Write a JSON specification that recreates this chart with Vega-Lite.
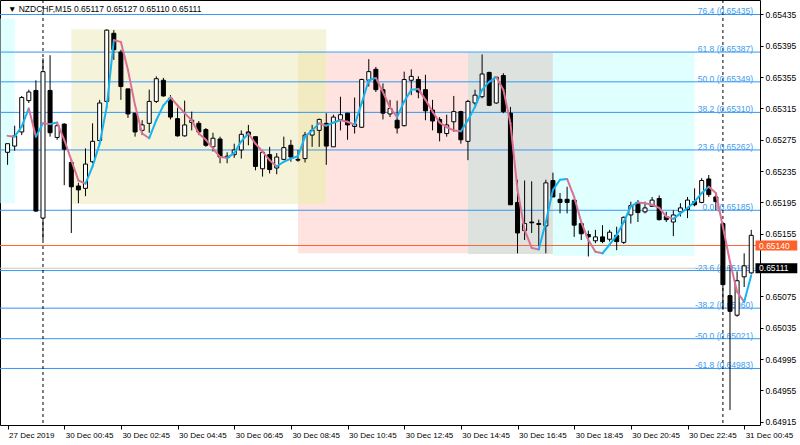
{
  "$schema": "https://vega.github.io/schema/vega-lite/v6.json",
  "width": 760,
  "height": 425,
  "autosize": {"type": "none"},
  "padding": {"left": 0, "top": 0, "right": 40, "bottom": 20},
  "background": "#ffffff",
  "config": {"view": {"stroke": "#000000", "strokeWidth": 1}, "axis": {"labelOverlap": false, "labelBound": false, "labelFlush": false, "labelSeparation": 0}},
  "resolve": {"scale": {"color": "independent"}},
  "datasets": {
    "candles": [
      {"i": -5, "o": 0.65259, "h": 0.65270, "l": 0.65243, "c": 0.65270, "ma": 0.65280},
      {"i": -4, "o": 0.65267, "h": 0.65293, "l": 0.65261, "c": 0.65280, "ma": 0.65279},
      {"i": -3, "o": 0.65285, "h": 0.65331, "l": 0.65281, "c": 0.65329, "ma": 0.65292},
      {"i": -2, "o": 0.65325, "h": 0.65339, "l": 0.65322, "c": 0.65336, "ma": 0.65315},
      {"i": -1, "o": 0.65338, "h": 0.65351, "l": 0.65183, "c": 0.65184, "ma": 0.65279},
      {"i": 0, "o": 0.65175, "h": 0.65379, "l": 0.65147, "c": 0.65362, "ma": 0.65296},
      {"i": 1, "o": 0.65338, "h": 0.65383, "l": 0.65279, "c": 0.65284, "ma": 0.65295},
      {"i": 2, "o": 0.65278, "h": 0.65296, "l": 0.65275, "c": 0.65293, "ma": 0.65297},
      {"i": 3, "o": 0.65295, "h": 0.65296, "l": 0.65217, "c": 0.65263, "ma": 0.65275},
      {"i": 4, "o": 0.65246, "h": 0.65249, "l": 0.65156, "c": 0.65215, "ma": 0.65249},
      {"i": 5, "o": 0.65216, "h": 0.65220, "l": 0.65194, "c": 0.65211, "ma": 0.65223},
      {"i": 6, "o": 0.65213, "h": 0.65264, "l": 0.65203, "c": 0.65244, "ma": 0.65219},
      {"i": 7, "o": 0.65247, "h": 0.65296, "l": 0.65245, "c": 0.65273, "ma": 0.65241},
      {"i": 8, "o": 0.65274, "h": 0.65326, "l": 0.65273, "c": 0.65322, "ma": 0.65270},
      {"i": 9, "o": 0.65324, "h": 0.65416, "l": 0.65322, "c": 0.65415, "ma": 0.65317},
      {"i": 10, "o": 0.65411, "h": 0.65415, "l": 0.65377, "c": 0.65390, "ma": 0.65402},
      {"i": 11, "o": 0.65387, "h": 0.65390, "l": 0.65326, "c": 0.65343, "ma": 0.65400},
      {"i": 12, "o": 0.65340, "h": 0.65340, "l": 0.65303, "c": 0.65308, "ma": 0.65364},
      {"i": 13, "o": 0.65309, "h": 0.65309, "l": 0.65279, "c": 0.65285, "ma": 0.65319},
      {"i": 14, "o": 0.65287, "h": 0.65300, "l": 0.65281, "c": 0.65294, "ma": 0.65283},
      {"i": 15, "o": 0.65296, "h": 0.65339, "l": 0.65284, "c": 0.65324, "ma": 0.65277},
      {"i": 16, "o": 0.65324, "h": 0.65356, "l": 0.65322, "c": 0.65353, "ma": 0.65300},
      {"i": 17, "o": 0.65351, "h": 0.65354, "l": 0.65330, "c": 0.65331, "ma": 0.65319},
      {"i": 18, "o": 0.65328, "h": 0.65332, "l": 0.65301, "c": 0.65304, "ma": 0.65329},
      {"i": 19, "o": 0.65302, "h": 0.65316, "l": 0.65279, "c": 0.65280, "ma": 0.65319},
      {"i": 20, "o": 0.65280, "h": 0.65325, "l": 0.65279, "c": 0.65294, "ma": 0.65309},
      {"i": 21, "o": 0.65297, "h": 0.65311, "l": 0.65287, "c": 0.65300, "ma": 0.65300},
      {"i": 22, "o": 0.65296, "h": 0.65299, "l": 0.65281, "c": 0.65285, "ma": 0.65283},
      {"i": 23, "o": 0.65288, "h": 0.65290, "l": 0.65266, "c": 0.65268, "ma": 0.65275},
      {"i": 24, "o": 0.65266, "h": 0.65284, "l": 0.65260, "c": 0.65277, "ma": 0.65264},
      {"i": 25, "o": 0.65276, "h": 0.65279, "l": 0.65245, "c": 0.65253, "ma": 0.65253},
      {"i": 26, "o": 0.65254, "h": 0.65259, "l": 0.65245, "c": 0.65252, "ma": 0.65252},
      {"i": 27, "o": 0.65256, "h": 0.65270, "l": 0.65252, "c": 0.65262, "ma": 0.65258},
      {"i": 28, "o": 0.65262, "h": 0.65287, "l": 0.65251, "c": 0.65282, "ma": 0.65273},
      {"i": 29, "o": 0.65285, "h": 0.65294, "l": 0.65268, "c": 0.65281, "ma": 0.65283},
      {"i": 30, "o": 0.65279, "h": 0.65279, "l": 0.65236, "c": 0.65241, "ma": 0.65270},
      {"i": 31, "o": 0.65238, "h": 0.65262, "l": 0.65228, "c": 0.65259, "ma": 0.65260},
      {"i": 32, "o": 0.65256, "h": 0.65266, "l": 0.65232, "c": 0.65237, "ma": 0.65249},
      {"i": 33, "o": 0.65239, "h": 0.65258, "l": 0.65231, "c": 0.65253, "ma": 0.65241},
      {"i": 34, "o": 0.65250, "h": 0.65279, "l": 0.65249, "c": 0.65265, "ma": 0.65247},
      {"i": 35, "o": 0.65268, "h": 0.65275, "l": 0.65247, "c": 0.65253, "ma": 0.65251},
      {"i": 36, "o": 0.65250, "h": 0.65262, "l": 0.65247, "c": 0.65249, "ma": 0.65254},
      {"i": 37, "o": 0.65251, "h": 0.65285, "l": 0.65246, "c": 0.65281, "ma": 0.65279},
      {"i": 38, "o": 0.65281, "h": 0.65294, "l": 0.65266, "c": 0.65287, "ma": 0.65287},
      {"i": 39, "o": 0.65287, "h": 0.65302, "l": 0.65266, "c": 0.65301, "ma": 0.65296},
      {"i": 40, "o": 0.65296, "h": 0.65309, "l": 0.65243, "c": 0.65267, "ma": 0.65293},
      {"i": 41, "o": 0.65266, "h": 0.65307, "l": 0.65266, "c": 0.65304, "ma": 0.65297},
      {"i": 42, "o": 0.65301, "h": 0.65330, "l": 0.65287, "c": 0.65307, "ma": 0.65300},
      {"i": 43, "o": 0.65309, "h": 0.65309, "l": 0.65275, "c": 0.65294, "ma": 0.65298},
      {"i": 44, "o": 0.65292, "h": 0.65329, "l": 0.65283, "c": 0.65295, "ma": 0.65294},
      {"i": 45, "o": 0.65291, "h": 0.65353, "l": 0.65290, "c": 0.65352, "ma": 0.65322},
      {"i": 46, "o": 0.65351, "h": 0.65378, "l": 0.65343, "c": 0.65362, "ma": 0.65351},
      {"i": 47, "o": 0.65365, "h": 0.65368, "l": 0.65336, "c": 0.65339, "ma": 0.65354},
      {"i": 48, "o": 0.65339, "h": 0.65347, "l": 0.65301, "c": 0.65309, "ma": 0.65336},
      {"i": 49, "o": 0.65308, "h": 0.65326, "l": 0.65304, "c": 0.65315, "ma": 0.65316},
      {"i": 50, "o": 0.65300, "h": 0.65325, "l": 0.65283, "c": 0.65290, "ma": 0.65304},
      {"i": 51, "o": 0.65293, "h": 0.65362, "l": 0.65292, "c": 0.65352, "ma": 0.65324},
      {"i": 52, "o": 0.65351, "h": 0.65365, "l": 0.65332, "c": 0.65356, "ma": 0.65339},
      {"i": 53, "o": 0.65352, "h": 0.65356, "l": 0.65328, "c": 0.65336, "ma": 0.65340},
      {"i": 54, "o": 0.65339, "h": 0.65358, "l": 0.65300, "c": 0.65312, "ma": 0.65326},
      {"i": 55, "o": 0.65313, "h": 0.65326, "l": 0.65287, "c": 0.65299, "ma": 0.65311},
      {"i": 56, "o": 0.65301, "h": 0.65304, "l": 0.65273, "c": 0.65284, "ma": 0.65297},
      {"i": 57, "o": 0.65283, "h": 0.65307, "l": 0.65279, "c": 0.65294, "ma": 0.65291},
      {"i": 58, "o": 0.65298, "h": 0.65331, "l": 0.65285, "c": 0.65311, "ma": 0.65287},
      {"i": 59, "o": 0.65311, "h": 0.65312, "l": 0.65270, "c": 0.65275, "ma": 0.65286},
      {"i": 60, "o": 0.65273, "h": 0.65326, "l": 0.65249, "c": 0.65324, "ma": 0.65300},
      {"i": 61, "o": 0.65322, "h": 0.65339, "l": 0.65319, "c": 0.65332, "ma": 0.65317},
      {"i": 62, "o": 0.65330, "h": 0.65384, "l": 0.65328, "c": 0.65359, "ma": 0.65339},
      {"i": 63, "o": 0.65361, "h": 0.65362, "l": 0.65318, "c": 0.65319, "ma": 0.65349},
      {"i": 64, "o": 0.65322, "h": 0.65356, "l": 0.65321, "c": 0.65355, "ma": 0.65355},
      {"i": 65, "o": 0.65357, "h": 0.65360, "l": 0.65309, "c": 0.65311, "ma": 0.65339},
      {"i": 66, "o": 0.65309, "h": 0.65317, "l": 0.65192, "c": 0.65192, "ma": 0.65296},
      {"i": 67, "o": 0.65195, "h": 0.65224, "l": 0.65130, "c": 0.65156, "ma": 0.65211},
      {"i": 68, "o": 0.65159, "h": 0.65223, "l": 0.65147, "c": 0.65168, "ma": 0.65160},
      {"i": 69, "o": 0.65170, "h": 0.65222, "l": 0.65156, "c": 0.65169, "ma": 0.65137},
      {"i": 70, "o": 0.65168, "h": 0.65173, "l": 0.65139, "c": 0.65167, "ma": 0.65135},
      {"i": 71, "o": 0.65165, "h": 0.65224, "l": 0.65130, "c": 0.65220, "ma": 0.65170},
      {"i": 72, "o": 0.65223, "h": 0.65233, "l": 0.65202, "c": 0.65202, "ma": 0.65211},
      {"i": 73, "o": 0.65199, "h": 0.65207, "l": 0.65181, "c": 0.65195, "ma": 0.65224},
      {"i": 74, "o": 0.65199, "h": 0.65215, "l": 0.65181, "c": 0.65195, "ma": 0.65225},
      {"i": 75, "o": 0.65198, "h": 0.65198, "l": 0.65151, "c": 0.65166, "ma": 0.65202},
      {"i": 76, "o": 0.65168, "h": 0.65168, "l": 0.65147, "c": 0.65155, "ma": 0.65170},
      {"i": 77, "o": 0.65154, "h": 0.65159, "l": 0.65126, "c": 0.65151, "ma": 0.65147},
      {"i": 78, "o": 0.65146, "h": 0.65160, "l": 0.65143, "c": 0.65151, "ma": 0.65132},
      {"i": 79, "o": 0.65151, "h": 0.65166, "l": 0.65143, "c": 0.65145, "ma": 0.65130},
      {"i": 80, "o": 0.65148, "h": 0.65160, "l": 0.65145, "c": 0.65157, "ma": 0.65141},
      {"i": 81, "o": 0.65153, "h": 0.65164, "l": 0.65134, "c": 0.65145, "ma": 0.65153},
      {"i": 82, "o": 0.65144, "h": 0.65177, "l": 0.65142, "c": 0.65176, "ma": 0.65170},
      {"i": 83, "o": 0.65179, "h": 0.65196, "l": 0.65168, "c": 0.65191, "ma": 0.65190},
      {"i": 84, "o": 0.65195, "h": 0.65198, "l": 0.65170, "c": 0.65182, "ma": 0.65195},
      {"i": 85, "o": 0.65183, "h": 0.65196, "l": 0.65181, "c": 0.65188, "ma": 0.65194},
      {"i": 86, "o": 0.65190, "h": 0.65202, "l": 0.65190, "c": 0.65198, "ma": 0.65192},
      {"i": 87, "o": 0.65200, "h": 0.65204, "l": 0.65172, "c": 0.65173, "ma": 0.65188},
      {"i": 88, "o": 0.65177, "h": 0.65183, "l": 0.65170, "c": 0.65173, "ma": 0.65177},
      {"i": 89, "o": 0.65170, "h": 0.65185, "l": 0.65152, "c": 0.65179, "ma": 0.65174},
      {"i": 90, "o": 0.65183, "h": 0.65194, "l": 0.65177, "c": 0.65188, "ma": 0.65181},
      {"i": 91, "o": 0.65186, "h": 0.65202, "l": 0.65175, "c": 0.65198, "ma": 0.65188},
      {"i": 92, "o": 0.65196, "h": 0.65213, "l": 0.65190, "c": 0.65192, "ma": 0.65196},
      {"i": 93, "o": 0.65195, "h": 0.65226, "l": 0.65194, "c": 0.65223, "ma": 0.65207},
      {"i": 94, "o": 0.65225, "h": 0.65230, "l": 0.65202, "c": 0.65205, "ma": 0.65215},
      {"i": 95, "o": 0.65202, "h": 0.65207, "l": 0.65185, "c": 0.65196, "ma": 0.65207},
      {"i": 96, "o": 0.65168, "h": 0.65169, "l": 0.65058, "c": 0.65090, "ma": 0.65164},
      {"i": 97, "o": 0.65076, "h": 0.65115, "l": 0.64930, "c": 0.65056, "ma": 0.65119},
      {"i": 98, "o": 0.65051, "h": 0.65107, "l": 0.65049, "c": 0.65095, "ma": 0.65081},
      {"i": 99, "o": 0.65100, "h": 0.65130, "l": 0.65087, "c": 0.65114, "ma": 0.65068},
      {"i": 100, "o": 0.65105, "h": 0.65160, "l": 0.65104, "c": 0.65153, "ma": 0.65102}
    ],
    "boxes": [
      {"box": "s0", "i": -6, "i2": -4, "p1": 0.65430, "p2": 0.65194},
      {"box": "s2", "i": 36, "i2": 60, "p1": 0.65386, "p2": 0.65130},
      {"box": "s1", "i": 4, "i2": 40, "p1": 0.65416, "p2": 0.65193},
      {"box": "overlap", "i": 36, "i2": 40, "p1": 0.65386, "p2": 0.65193},
      {"box": "s3", "i": 60, "i2": 72, "p1": 0.65386, "p2": 0.65129},
      {"box": "s4", "i": 72, "i2": 92, "p1": 0.65386, "p2": 0.65127}
    ],
    "fib": [
      {"level": "76.4", "price": 0.65435, "label": "76.4 (0.65435)"},
      {"level": "61.8", "price": 0.65387, "label": "61.8 (0.65387)"},
      {"level": "50.0", "price": 0.65349, "label": "50.0 (0.65349)"},
      {"level": "38.2", "price": 0.65310, "label": "38.2 (0.65310)"},
      {"level": "23.6", "price": 0.65262, "label": "23.6 (0.65262)"},
      {"level": "0.0", "price": 0.65185, "label": "0.0 (0.65185)"},
      {"level": "-23.6", "price": 0.65108, "label": "-23.6 (0.65108)"},
      {"level": "-38.2", "price": 0.65060, "label": "-38.2 (0.65060)"},
      {"level": "-50.0", "price": 0.65021, "label": "-50.0 (0.65021)"},
      {"level": "-61.8", "price": 0.64983, "label": "-61.8 (0.64983)"}
    ],
    "hlines": [
      {"name": "level", "price": 0.65140, "label": "0.65140"},
      {"name": "bid", "price": 0.65111, "label": "0.65111"}
    ],
    "seps": [{"i": 0}, {"i": 96}],
    "title": [{"label": "▼ NZDCHF,M15  0.65117 0.65127 0.65110 0.65111"}]
  },
  "layer": [
    {
      "data": {"name": "boxes"},
      "mark": {"type": "rect", "clip": true},
      "encoding": {
        "x": {"field": "i", "type": "quantitative", "scale": {"domain": [-5.364, 100.53], "nice": false, "zero": false},
          "axis": {"orient": "bottom", "title": null, "grid": false, "domain": false, "ticks": true, "tickSize": 4, "tickColor": "#000000", "tickCount": 30,
            "values": [-5, 3, 11, 19, 27, 35, 43, 51, 59, 67, 75, 83, 91, 99],
            "labelExpr": "datum.value == -5 ? '27 Dec 2019' : datum.value == 99 ? '31 Dec 00:45' : '30 Dec ' + ((datum.value - 3) / 4 < 10 ? '0' : '') + ((datum.value - 3) / 4) + ':45'",
            "labelAlign": "left", "labelBaseline": "top", "labelPadding": 2, "labelOffset": 1, "labelFont": "Liberation Sans", "labelFontSize": 8, "labelColor": "#000000", "labelFlush": false, "labelOverlap": false, "labelBound": false}},
        "x2": {"field": "i2"},
        "y": {"field": "p1", "type": "quantitative", "scale": {"domain": [0.649108, 0.654535], "nice": false, "zero": false},
          "axis": {"orient": "right", "title": null, "grid": false, "domain": false, "ticks": true, "tickSize": 3, "tickColor": "#000000", "tickCount": 30,
            "values": [0.64915, 0.64955, 0.64995, 0.65035, 0.65075, 0.65155, 0.65195, 0.65235, 0.65275, 0.65315, 0.65355, 0.65395, 0.65435],
            "format": ".5f", "labelAlign": "left", "labelBaseline": "middle", "labelPadding": 2, "labelFont": "Liberation Sans", "labelFontSize": 8.5, "labelColor": "#000000", "labelOverlap": false, "labelBound": false, "labelFlush": false}},
        "y2": {"field": "p2"},
        "color": {"field": "box", "type": "nominal", "legend": null,
          "scale": {"domain": ["s0", "s1", "s2", "overlap", "s3", "s4"], "range": ["#E0FFFF", "#F5F3DA", "#FFE3E1", "#F2EAC0", "#DEE2DF", "#E0FFFF"]}}
      }
    },
    {
      "data": {"name": "fib"},
      "mark": {"type": "rule", "color": "#3497F2", "strokeWidth": 1},
      "encoding": {"y": {"field": "price", "type": "quantitative", "axis": {"tickCount": 30, "title": null}}}
    },
    {
      "data": {"name": "hlines"},
      "mark": {"type": "rule", "strokeWidth": 1},
      "encoding": {
        "y": {"field": "price", "type": "quantitative", "axis": {"tickCount": 30, "title": null}},
        "color": {"field": "name", "type": "nominal", "legend": null, "scale": {"domain": ["level", "bid"], "range": ["#FF6633", "#C8C8C8"]}}
      }
    },
    {
      "data": {"name": "seps"},
      "mark": {"type": "rule", "color": "#000000", "strokeWidth": 1, "strokeDash": [3, 3]},
      "encoding": {"x": {"field": "i", "type": "quantitative", "axis": {"tickCount": 30, "title": null}}}
    },
    {
      "data": {"name": "fib"},
      "mark": {"type": "text", "align": "right", "baseline": "alphabetic", "font": "Liberation Sans", "fontSize": 8.5, "color": "#3C9CF0", "dy": 0},
      "encoding": {
        "x": {"datum": 100.25, "type": "quantitative", "axis": {"tickCount": 30, "title": null}},
        "y": {"field": "price", "type": "quantitative", "axis": {"tickCount": 30, "title": null}},
        "text": {"field": "label"}
      }
    },
    {
      "data": {"name": "candles"},
      "mark": {"type": "rule", "color": "#000000", "strokeWidth": 1},
      "encoding": {
        "x": {"field": "i", "type": "quantitative", "axis": {"tickCount": 30, "title": null}},
        "y": {"field": "l", "type": "quantitative", "axis": {"tickCount": 30, "title": null}},
        "y2": {"field": "h"}
      }
    },
    {
      "data": {"name": "candles"},
      "mark": {"type": "bar", "size": 4, "stroke": "#000000", "strokeWidth": 1},
      "encoding": {
        "x": {"field": "i", "type": "quantitative", "axis": {"tickCount": 30, "title": null}},
        "y": {"field": "o", "type": "quantitative", "axis": {"tickCount": 30, "title": null}},
        "y2": {"field": "c"},
        "fill": {"condition": {"test": "datum.c >= datum.o", "value": "#ffffff"}, "value": "#000000"}
      }
    },
    {
      "data": {"name": "candles"},
      "transform": [
        {"window": [{"op": "lead", "field": "ma", "as": "ma2"}, {"op": "lead", "field": "i", "as": "i2"}], "sort": [{"field": "i", "order": "ascending"}]},
        {"filter": "isValid(datum.ma2)"}
      ],
      "mark": {"type": "rule", "strokeWidth": 2, "strokeCap": "round"},
      "encoding": {
        "x": {"field": "i", "type": "quantitative", "axis": {"tickCount": 30, "title": null}},
        "x2": {"field": "i2"},
        "y": {"field": "ma", "type": "quantitative", "axis": {"tickCount": 30, "title": null}},
        "y2": {"field": "ma2"},
        "color": {"condition": {"test": "datum.ma2 > datum.ma", "value": "#12B5F2"}, "value": "#DB7093"}
      }
    },
    {
      "data": {"name": "hlines"},
      "mark": {"type": "rect", "yOffset": -5, "y2Offset": 5},
      "encoding": {
        "x": {"datum": 100.6, "type": "quantitative", "axis": {"tickCount": 30, "title": null}},
        "x2": {"datum": 106.5},
        "y": {"field": "price", "type": "quantitative", "axis": {"tickCount": 30, "title": null}},
        "y2": {"field": "price"},
        "color": {"field": "name", "type": "nominal", "legend": null, "scale": {"domain": ["level", "bid"], "range": ["#FF5F28", "#000000"]}}
      }
    },
    {
      "data": {"name": "hlines"},
      "mark": {"type": "text", "align": "left", "baseline": "middle", "font": "Liberation Sans", "fontSize": 8.5, "color": "#ffffff"},
      "encoding": {
        "x": {"datum": 101.1, "type": "quantitative", "axis": {"tickCount": 30, "title": null}},
        "y": {"field": "price", "type": "quantitative", "axis": {"tickCount": 30, "title": null}},
        "text": {"field": "label"}
      }
    },
    {
      "data": {"name": "title"},
      "mark": {"type": "text", "align": "left", "baseline": "middle", "font": "Liberation Sans", "fontSize": 8.5, "color": "#000000"},
      "encoding": {
        "x": {"datum": -4.95, "type": "quantitative", "axis": {"tickCount": 30, "title": null}},
        "y": {"datum": 0.65442, "type": "quantitative", "axis": {"tickCount": 30, "title": null}},
        "text": {"field": "label"}
      }
    }
  ]
}
